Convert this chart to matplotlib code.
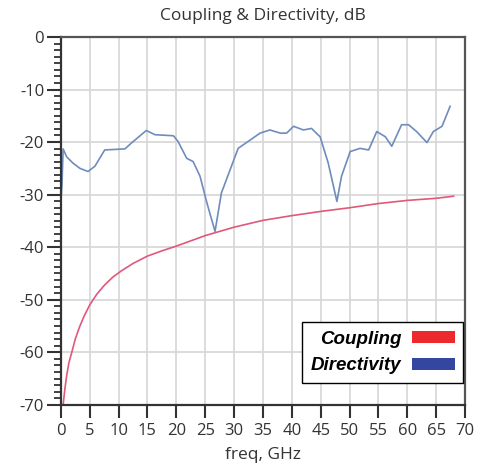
import matplotlib
matplotlib.use("Agg")
from matplotlib import pyplot as plt
from matplotlib.patches import Patch
from matplotlib.ticker import MultipleLocator

plt.rcParams['font.family'] = ['Open Sans', 'DejaVu Sans']
plt.rcParams['axes.unicode_minus'] = False

# Coupling, dB
f_coup = [0.4, 0.7, 1.0, 1.4, 1.9, 2.5, 3.2, 4.0, 5.0, 6.2, 7.5, 9.0, 10.5,
          12.5, 15, 17.5, 20, 25, 30, 35, 40, 45, 50, 55, 60, 65, 68]
coupling = [-70, -67, -64.5, -62, -60, -57.5, -55.3, -53.2, -51.0, -49.0,
            -47.3, -45.7, -44.5, -43.1, -41.7, -40.7, -39.8, -37.8, -36.2,
            -34.9, -34.0, -33.2, -32.5, -31.7, -31.1, -30.7, -30.3]

# Directivity, dB
f_dir = [0.0, 0.2, 0.4, 1.0, 2.1, 3.3, 4.7, 5.9, 7.6, 11.1, 12.2, 14.8, 16.3,
         19.5, 20.3, 21.8, 22.9, 24.1, 25.3, 26.7, 27.8, 29.3, 30.7, 32.8,
         34.5, 36.2, 38.0, 39.1, 40.3, 42.0, 43.4, 44.9, 46.3, 47.8, 48.6,
         50.1, 51.8, 53.3, 54.7, 56.2, 57.3, 59.0, 60.2, 61.6, 63.4, 64.5,
         66.0, 67.4]
directivity = [-31.5, -28, -21.3, -22.8, -24.0, -25.0, -25.6, -24.6, -21.5,
               -21.3, -20.2, -17.8, -18.6, -18.8, -19.9, -23.1, -23.7, -26.5,
               -31.6, -37.0, -29.7, -25.3, -21.2, -19.6, -18.3, -17.7, -18.3,
               -18.3, -17.0, -17.7, -17.4, -19.0, -24.0, -31.3, -26.5, -21.8,
               -21.2, -21.5, -18.0, -19.0, -20.8, -16.7, -16.7, -18.0, -20.1,
               -18.0, -17.0, -13.2]

fig = plt.figure(figsize=(4.79, 4.74), dpi=100)
ax = fig.add_axes([0.127, 0.146, 0.844, 0.776])

ax.plot(f_coup, coupling, color='#e0587a', lw=1.2)
ax.plot(f_dir, directivity, color='#6f8cbc', lw=1.2)

ax.set_xlim(0, 70)
ax.set_ylim(-70, 0)
ax.xaxis.set_major_locator(MultipleLocator(5))
ax.yaxis.set_major_locator(MultipleLocator(10))
ax.yaxis.set_minor_locator(MultipleLocator(1.25))
ax.grid(True, which='major', color='#d6d6d6', lw=1.2)
ax.set_axisbelow(True)

for s in ['top', 'right']:
    ax.spines[s].set_color('#555555')
    ax.spines[s].set_linewidth(1.6)
for s in ['left', 'bottom']:
    ax.spines[s].set_color('#333333')
    ax.spines[s].set_linewidth(1.6)

ax.tick_params(axis='x', which='major', length=9, width=1.5, color='#333333',
               labelsize=12, labelcolor='#333333', pad=4)
ax.tick_params(axis='y', which='major', length=10, width=1.5, color='#333333',
               labelsize=12, labelcolor='#333333', pad=2)
ax.tick_params(axis='y', which='minor', length=5, width=1.3, color='#333333')

ax.set_title("Coupling & Directivity, dB", fontsize=12.5, color='#333333', pad=12)
ax.set_xlabel("freq, GHz", fontsize=12.5, color='#333333', labelpad=6)

handles = [Patch(facecolor='#ec2a2e', edgecolor='none', label='Coupling'),
           Patch(facecolor='#3347a0', edgecolor='none', label='Directivity')]
leg = ax.legend(handles=handles, loc='lower right', bbox_to_anchor=(0.995, 0.06),
                borderaxespad=0, markerfirst=False, fancybox=False,
                framealpha=1, edgecolor='black', handlelength=2.25,
                handleheight=0.6, handletextpad=0.6, labelspacing=0.5,
                borderpad=0.45,
                prop={'family': 'Liberation Sans', 'weight': 'bold',
                      'style': 'italic', 'size': 13.5})
leg.get_frame().set_linewidth(1.0)

fig.savefig("out.png", dpi=100)
